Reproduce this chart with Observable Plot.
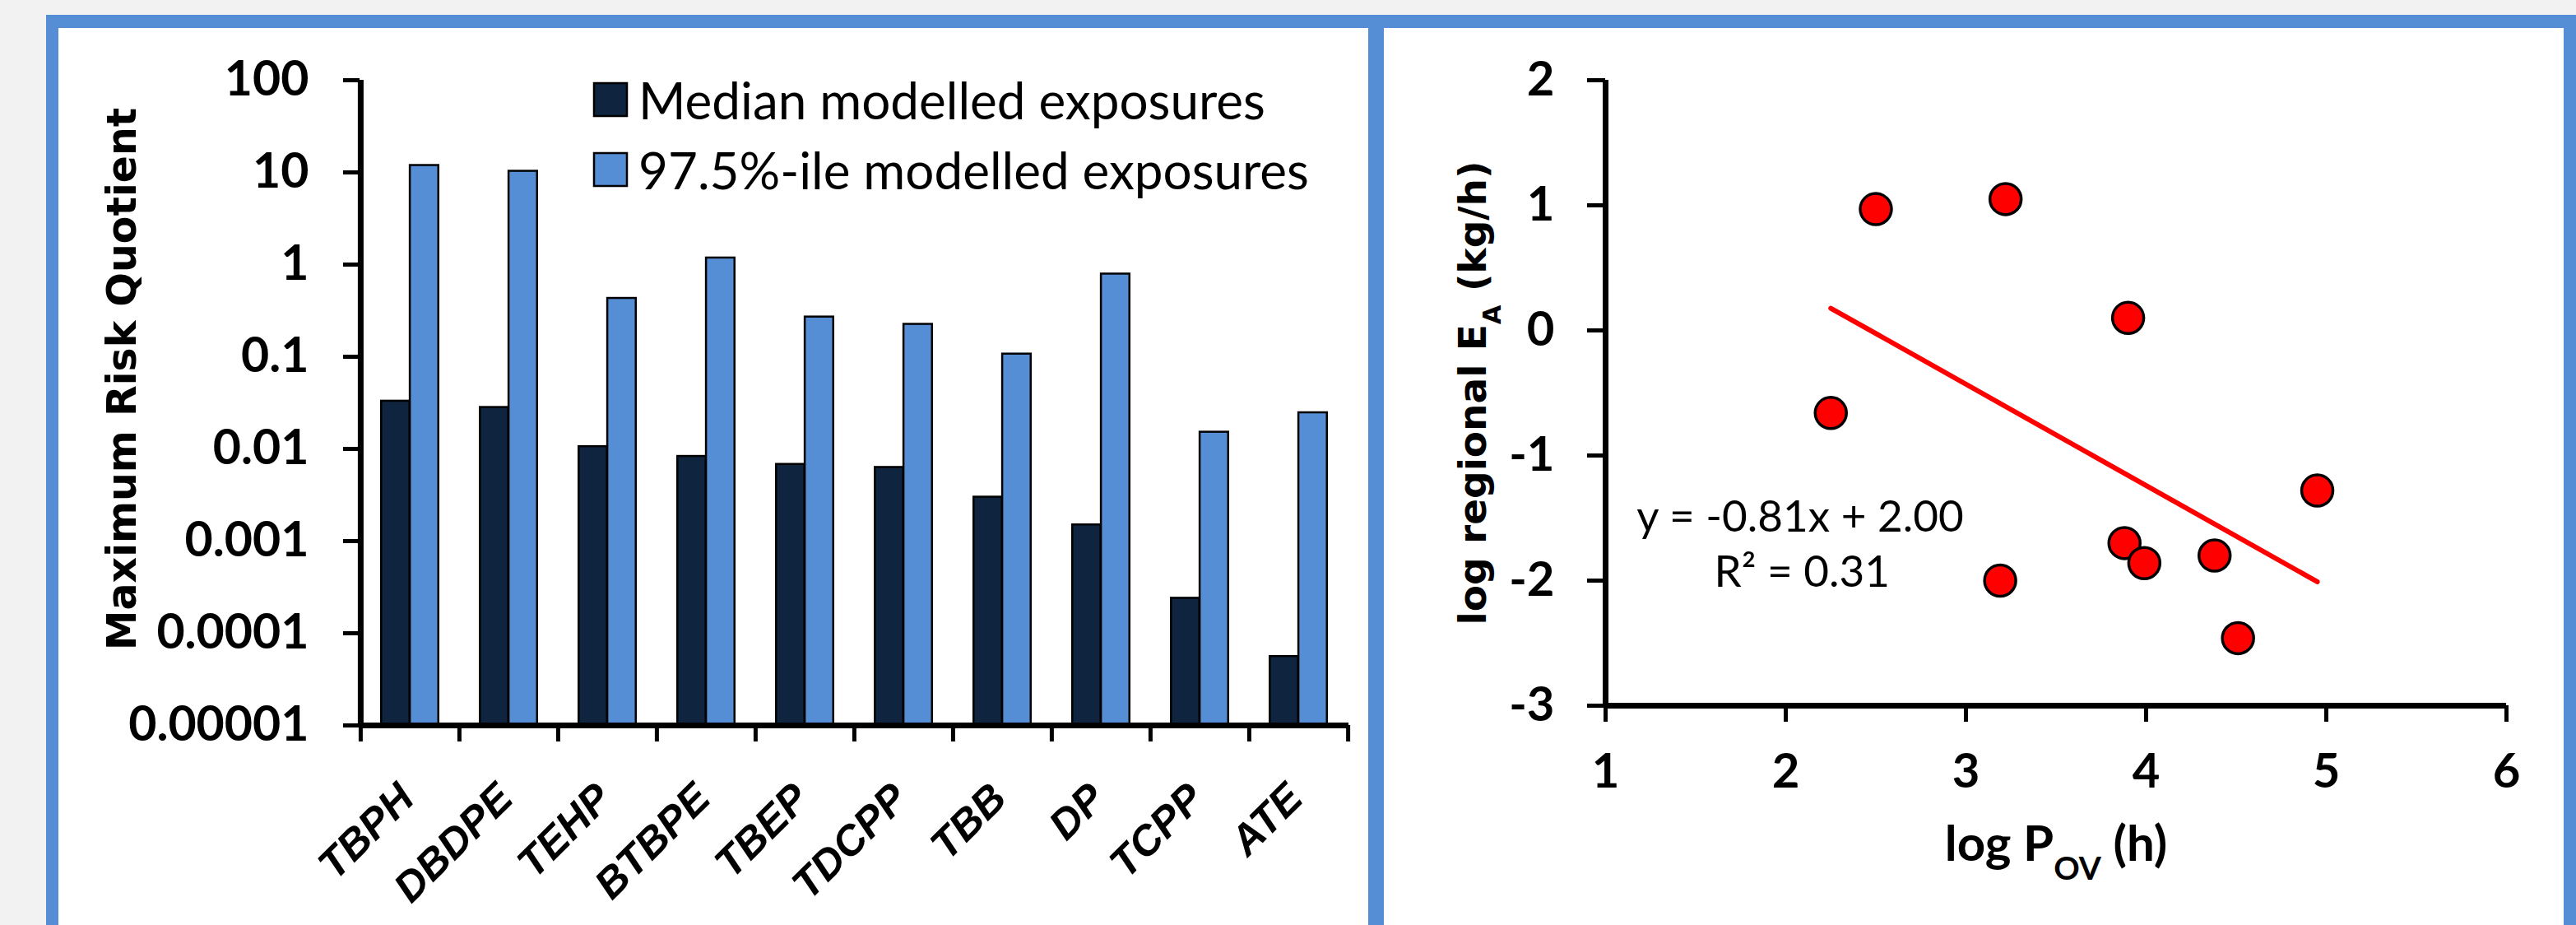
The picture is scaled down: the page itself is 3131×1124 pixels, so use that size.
<!DOCTYPE html>
<html>
<head>
<meta charset="utf-8">
<script src="https://cdn.jsdelivr.net/npm/d3@7"></script>
<script src="https://cdn.jsdelivr.net/npm/@observablehq/plot@0.6"></script>
<style>
  html, body { margin: 0; padding: 0; }
  body { width: 3131px; height: 1124px; background: #f2f2f2; position: relative; overflow: hidden; }
  .panel { position: absolute; box-sizing: border-box; background: #ffffff; border: 0 solid #558ED5; }
  #leftPanel { left: 56px; top: 18px; width: 1626px; height: 1200px; border-left-width: 15px; border-top-width: 16px; border-right-width: 19px; }
  #rightPanel { left: 1682px; top: 18px; width: 1449px; height: 1200px; border-top-width: 16px; border-right-width: 15px; }
  #leftChart { position: absolute; left: 0; top: 0; width: 1700px; height: 1124px; }
  #rightChart { position: absolute; left: 1682px; top: 0; width: 1449px; height: 1124px; }
  #leftChart svg, #rightChart svg { max-width: none; }
  #legend { position: absolute; left: 722px; top: 79px; }
  #legend .lg-swatches { font-family: Lato, "Open Sans", sans-serif; font-size: 62px; color: #000; }
  #legend .lg-swatch { display: flex; align-items: center; height: 84px; margin: 0; }
  #legend .lg-swatch svg { margin-right: 14px; overflow: visible; }
  #legend .lg-swatch svg rect { stroke: #000; stroke-width: 2.5px; }
</style>
</head>
<body>
<div class="panel" id="leftPanel"></div>
<div class="panel" id="rightPanel"></div>
<div id="leftChart"></div>
<div id="rightChart"></div>
<div id="legend"></div>
<script>
// ---------- Data: left panel (bar chart, log scale) ----------
const categories = ["TBPH", "DBDPE", "TEHP", "BTBPE", "TBEP", "TDCPP", "TBB", "DP", "TCPP", "ATE"];
const seriesNames = ["Median modelled exposures", "97.5%-ile modelled exposures"];
const medianRQ = [0.033, 0.0282, 0.0106, 0.0083, 0.0068, 0.0063, 0.0030, 0.0015, 0.00024, 0.000056];
const p975RQ   = [11.9, 10.3, 0.43, 1.18, 0.27, 0.225, 0.107, 0.79, 0.0152, 0.0247];
const rqTicks = [0.00001, 0.0001, 0.001, 0.01, 0.1, 1, 10, 100];
const rqTickLabels = ["0.00001", "0.0001", "0.001", "0.01", "0.1", "1", "10", "100"];
const yLeftTitle = "Maximum Risk Quotient";

// ---------- Data: right panel (scatter) ----------
const logPov = [2.25, 2.50, 3.22, 3.19, 3.90, 3.88, 3.99, 4.38, 4.51, 4.95];
const logEa  = [-0.66, 0.97, 1.05, -2.00, 0.10, -1.70, -1.86, -1.80, -2.46, -1.28];
const fitSlope = -0.81;
const fitIntercept = 2.00;
const fitR2 = 0.31;
const xRightTicks = [1, 2, 3, 4, 5, 6];
const yRightTicks = [-3, -2, -1, 0, 1, 2];
const eqLabelPos = {x: 2.08, y: -1.5};
const r2LabelPos = {x: 2.09, y: -1.94};

const darkColor = "#0F243E";
const lightColor = "#558ED5";

// ---------- Left chart ----------
const rows = categories.map((c, i) => ({category: c, median: medianRQ[i], p975: p975RQ[i]}));
const LW = 1700, LH = 1124, LML = 437, LMR = 61, LMT = 97, LMB = 243;
const bw = (LW - LML - LMR) / categories.length;
const yMin = rqTicks[0], yMax = rqTicks[rqTicks.length - 1];
const tickFont = "Lato, 'Open Sans', sans-serif";

const left = Plot.plot({
  width: LW, height: LH,
  marginLeft: LML, marginRight: LMR, marginTop: LMT, marginBottom: LMB,
  style: {background: "transparent", overflow: "visible", color: "#000", fontFamily: tickFont},
  x: {type: "band", domain: categories, paddingInner: 0, paddingOuter: 0, axis: null},
  y: {type: "log", domain: [yMin, yMax], axis: null},
  color: {domain: seriesNames, range: [darkColor, lightColor]},
  marks: [
    Plot.barY(rows, {x: "category", y1: () => yMin, y2: "median", fill: () => seriesNames[0],
      stroke: "#000", strokeWidth: 2.5, insetLeft: bw * 0.21, insetRight: bw * 0.5}),
    Plot.barY(rows, {x: "category", y1: () => yMin, y2: "p975", fill: () => seriesNames[1],
      stroke: "#000", strokeWidth: 2.5, insetLeft: bw * 0.5, insetRight: bw * 0.21}),
    Plot.axisY({ticks: rqTicks, tickFormat: (d) => rqTickLabels[rqTicks.indexOf(d)],
      tickSize: 20, tickPadding: 42, strokeWidth: 5, fontSize: 59, fontWeight: "bold",
      fontFamily: tickFont, label: null}),
    Plot.axisX(categories, {tickSize: 20, tickFormat: () => "", dx: -bw / 2, strokeWidth: 5, label: null}),
    Plot.axisX([categories[categories.length - 1]], {tickSize: 20, tickFormat: () => "", dx: bw / 2, strokeWidth: 5, label: null}),
    Plot.axisX({tickSize: 0, tickPadding: 80, tickRotate: -45, fontSize: 51, fontWeight: "bold", dx: -4,
      fontStyle: "italic", fontFamily: "'Liberation Sans', Arial, sans-serif", label: null}),
    Plot.ruleY([yMin], {strokeWidth: 7}),
    Plot.ruleX([categories[0]], {dx: -bw / 2, y1: yMin, y2: yMax, strokeWidth: 7}),
    Plot.text([yLeftTitle], {frameAnchor: "left", textAnchor: "middle", dx: -288, dy: -29, rotate: -90, text: d => d,
      fontSize: 49, fontWeight: "bold", fontFamily: "'DejaVu Sans', Verdana, sans-serif"})
  ]
});
document.getElementById("leftChart").appendChild(left);

const legend = left.legend("color", {swatchSize: 40, columns: 1, className: "lg"});
document.getElementById("legend").appendChild(legend);

// ---------- Right chart ----------
const pts = logPov.map((x, i) => ({x, y: logEa[i]}));
const fitLine = d3.extent(logPov).map(x => ({x, y: fitSlope * x + fitIntercept}));
const RW = 1449, RH = 1124, RML = 269, RMR = 85, RMT = 97, RMB = 267;
const eqText = `y = ${fitSlope.toFixed(2)}x + ${fitIntercept.toFixed(2)}`;
const r2Text = `R² = ${fitR2.toFixed(2)}`;

const right = Plot.plot({
  width: RW, height: RH,
  marginLeft: RML, marginRight: RMR, marginTop: RMT, marginBottom: RMB,
  style: {background: "transparent", overflow: "visible", color: "#000", fontFamily: tickFont},
  x: {domain: [xRightTicks[0], xRightTicks[xRightTicks.length - 1]], axis: null},
  y: {domain: [yRightTicks[0], yRightTicks[yRightTicks.length - 1]], axis: null},
  marks: [
    Plot.axisX({ticks: xRightTicks, tickSize: 20, tickPadding: 38, strokeWidth: 5, fontSize: 58,
      fontWeight: "bold", fontFamily: tickFont, label: null, tickFormat: d => String(d)}),
    Plot.axisY({ticks: yRightTicks, tickSize: 22, tickPadding: 40, strokeWidth: 5, fontSize: 58,
      fontWeight: "bold", fontFamily: tickFont, label: null,
      tickFormat: d => (d < 0 ? "-" + Math.abs(d) : String(d))}),
    Plot.ruleY([yRightTicks[0]], {strokeWidth: 7}),
    Plot.ruleX([xRightTicks[0]], {strokeWidth: 7}),
    Plot.line(fitLine, {x: "x", y: "y", stroke: "#FF0000", strokeWidth: 6}),
    Plot.dot(pts, {x: "x", y: "y", r: 19, fill: "#FF0000", stroke: "#000", strokeWidth: 3.5}),
    Plot.text([eqText], {x: eqLabelPos.x, y: eqLabelPos.y, text: d => d, fontSize: 53, fontFamily: tickFont}),
    Plot.text([r2Text], {x: r2LabelPos.x, y: r2LabelPos.y, text: d => d, fontSize: 53, fontFamily: tickFont}),
    Plot.text(["log regional EA (kg/h)"], {frameAnchor: "left", textAnchor: "middle", dx: -161, dy: 0, rotate: -90, text: d => d,
      fontSize: 47, fontWeight: "bold", fontFamily: "'DejaVu Sans', Verdana, sans-serif"}),
    Plot.text(["log POV (h)"], {frameAnchor: "bottom", dy: 188, text: d => d,
      fontSize: 60, fontWeight: "bold", fontFamily: tickFont})
  ]
});
document.getElementById("rightChart").appendChild(right);

// subscripts in axis titles
d3.select(right).selectAll("text").each(function() {
  const t = this.textContent;
  if (t === "log regional EA (kg/h)") {
    this.textContent = "";
    const s = d3.select(this);
    s.append("tspan").text("log regional E");
    s.append("tspan").attr("baseline-shift", "sub").attr("font-size", "0.65em").text("A");
    s.append("tspan").text(" (kg/h)");
  } else if (t === "log POV (h)") {
    this.textContent = "";
    const s = d3.select(this);
    s.append("tspan").text("log P");
    s.append("tspan").attr("baseline-shift", "sub").attr("font-size", "0.65em").text("OV");
    s.append("tspan").text(" (h)");
  }
});
</script>
</body>
</html>
